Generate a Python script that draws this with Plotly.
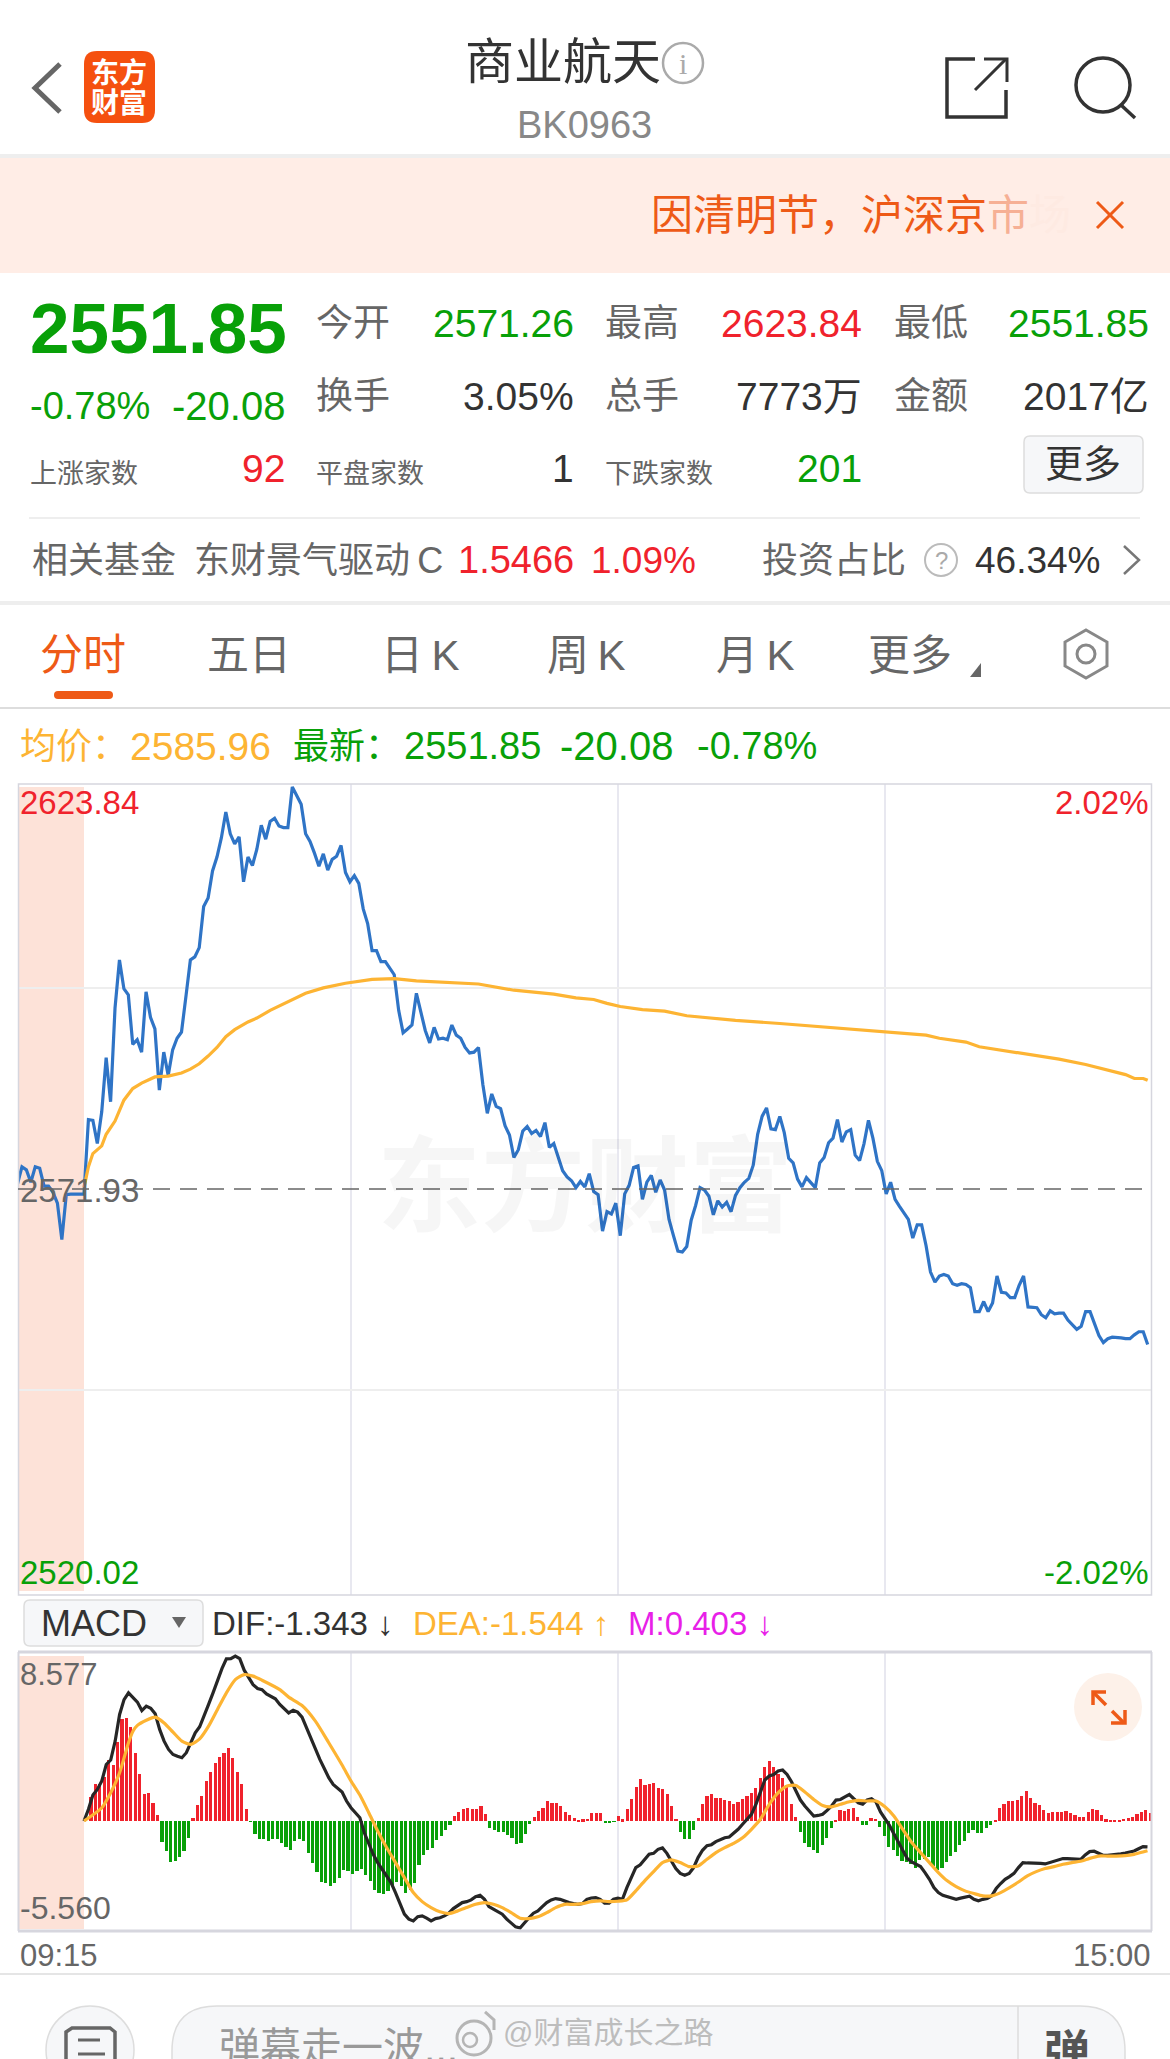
import numpy as np
import plotly.graph_objects as go

W, H = 1170, 2059

# ---------- data ----------
first_price_minute = -15
price = [
 2572.6,2574.8,2574.4,2572.8,2574.8,2574.6,2572.3,2572.3,2571.5,2570.1,2565.4,2571.2,2571.26,2571.26,2571.26,2571.26,
 2580.9,2580.8,2577.8,2581.9,2588.9,2583.2,2595.3,2601.5,2597.8,2597.0,
 2590.6,2591.2,2589.6,2597.4,2594.1,2592.6,2584.7,2589.6,2586.6,2589.9,
 2591.4,2592.2,2596.8,2601.5,2601.9,2603.1,2608.4,2609.5,2613.0,2614.8,
 2617.3,2620.6,2617.8,2616.5,2617.4,2611.6,2614.8,2613.7,2615.8,2618.9,
 2617.1,2619.4,2619.8,2618.8,2618.6,2618.6,2623.84,2622.6,2621.6,2617.8,
 2616.8,2615.3,2613.6,2615.2,2613.1,2614.5,2614.9,2616.3,2612.8,2611.6,
 2612.4,2611.4,2608.1,2606.2,2602.7,2602.7,2601.3,2601.3,2600.5,2599.6,
 2595.0,2592.1,2592.6,2593.1,2597.2,2594.6,2592.4,2590.8,2592.8,2591.3,
 2591.4,2591.2,2593.1,2591.8,2591.4,2590.2,2589.5,2589.6,2590.2,2585.4,
 2581.7,2584.2,2582.6,2582.3,2580.1,2578.9,2576.0,2577.0,2579.4,2580.0,
 2579.1,2579.5,2578.7,2580.5,2577.3,2577.8,2575.9,2574.3,2573.5,2573.0,
 2572.1,2572.9,2572.2,2573.9,2571.6,2571.2,2566.5,2569.0,2568.7,2570.1,
 2565.9,2571.3,2572.4,2574.7,2574.9,2570.6,2572.8,2573.7,2571.5,2573.1,
 2571.8,2568.0,2565.9,2563.9,2563.8,2564.5,2567.9,2569.8,2572.1,2571.8,
 2571.0,2568.6,2570.4,2569.6,2570.2,2569.0,2571.1,2572.1,2572.8,2573.3,
 2575.0,2579.0,2581.3,2582.4,2579.7,2579.6,2581.3,2579.2,2575.9,2575.3,
 2573.2,2572.2,2573.4,2572.7,2572.1,2575.3,2576.0,2577.9,2578.5,2580.9,
 2578.0,2579.3,2579.6,2576.3,2575.6,2577.8,2580.8,2578.5,2575.5,2574.3,
 2571.3,2572.8,2570.6,2569.7,2568.9,2568.0,2565.6,2567.3,2567.3,2564.6,
 2561.2,2559.9,2560.7,2560.9,2560.7,2559.7,2559.5,2559.7,2559.6,2559.2,
 2556.1,2556.1,2557.4,2556.1,2557.2,2560.7,2558.6,2558.5,2557.9,2557.9,
 2559.5,2560.7,2556.7,2556.6,2556.6,2555.7,2555.3,2556.2,2555.8,2555.9,
 2555.9,2555.0,2554.4,2553.8,2554.2,2556.1,2556.1,2554.5,2553.0,2552.1,
 2552.6,2552.8,2552.8,2552.7,2552.6,2552.6,2553.1,2553.5,2553.5,2551.85]

avg_minutes = [0,1,2,4,5,7,9,11,13,16,19,22,24,26,28,30,32,34,37,39,42,46,50,54,59,65,70,75,82,89,97,
               106,111,115,118,121,126,131,136,147,157,170,183,190,193,199,202,212,220,226,231,235,237,239,240]
avg_price = [2572.1,2574.8,2576.5,2577.5,2579.0,2580.7,2583.4,2584.9,2585.6,2586.4,2586.5,2586.9,2587.4,2588.1,
             2589.1,2590.2,2591.6,2592.5,2593.5,2594.0,2595.0,2596.1,2597.2,2597.9,2598.5,2599.0,2599.1,2598.8,
             2598.6,2598.4,2597.6,2597.1,2596.6,2596.4,2595.9,2595.5,2595.1,2594.9,2594.3,2593.7,2593.3,2592.7,
             2592.2,2591.8,2591.4,2590.9,2590.3,2589.4,2588.7,2588.0,2587.3,2586.7,2586.2,2586.2,2585.96]

macd_bars = [
 1.25,1.95,1.95,2.30,3.15,2.91,4.10,5.31,5.33,4.91,3.53,2.46,1.40,1.44,0.95,0.31,
 -1.09,-1.56,-2.13,-2.09,-1.85,-1.57,-0.90,0.17,0.83,1.28,2.08,2.54,3.04,3.32,
 3.51,3.77,3.30,2.56,1.90,0.62,-0.03,-0.69,-0.95,-0.92,-1.02,-0.95,-0.95,-1.12,
 -1.33,-1.51,-1.04,-0.95,-1.04,-1.66,-2.18,-2.66,-3.15,-3.20,-3.37,-3.24,-2.98,
 -2.54,-2.60,-2.75,-2.60,-2.51,-2.82,-3.10,-3.58,-3.72,-3.81,-3.62,-3.34,-3.17,
 -3.37,-3.72,-3.58,-3.20,-2.28,-1.76,-1.51,-1.42,-1.00,-0.78,-0.48,-0.22,0.26,
 0.48,0.64,0.66,0.61,0.64,0.78,0.35,-0.35,-0.45,-0.57,-0.57,-0.74,-0.88,-1.21,
 -1.14,-0.66,-0.14,0.19,0.50,0.69,1.04,0.93,0.95,0.78,0.48,0.29,0.14,0.02,0.09,
 0.12,0.43,0.40,0.40,-0.10,-0.09,-0.05,0.26,0.09,0.61,1.16,1.78,2.18,1.89,1.90,
 1.99,1.70,1.68,1.42,0.78,0.12,-0.55,-0.92,-0.95,-0.48,0.14,0.87,1.28,1.42,1.18,
 1.21,1.07,1.06,0.87,0.97,1.16,1.31,1.44,1.70,2.25,2.79,3.11,2.82,2.44,2.25,1.85,
 0.87,0.19,-0.57,-1.14,-1.33,-1.51,-1.64,-1.25,-0.88,-0.36,0.03,0.57,0.54,0.62,
 0.66,0.21,-0.21,-0.21,0.17,0.12,-0.33,-0.78,-1.37,-1.52,-1.83,-2.06,-2.11,-2.25,
 -2.44,-2.01,-1.99,-1.87,-2.34,-2.54,-2.44,-2.13,-1.83,-1.59,-1.25,-1.02,-0.64,
 -0.45,-0.62,-0.62,-0.36,-0.22,0.03,0.67,0.88,1.04,1.06,1.07,1.28,1.56,1.18,0.95,
 0.81,0.59,0.43,0.45,0.45,0.47,0.50,0.40,0.29,0.21,0.21,0.48,0.64,0.55,0.31,0.09,
 0.03,0.02,0.07,0.12,0.17,0.22,0.35,0.48,0.55,0.40]

dif = [
 0,0.61,1.35,1.64,2.08,2.94,3.17,4.15,5.54,6.31,6.66,6.40,6.18,5.74,5.97,5.86,5.57,4.76,4.15,3.72,
 3.46,3.37,3.29,3.55,4.12,4.58,4.90,5.54,6.06,6.66,7.32,7.92,8.43,8.44,8.577,8.44,7.84,7.44,7.09,6.89,
 6.83,6.61,6.49,6.35,6.06,5.83,5.62,5.76,5.66,5.40,4.84,4.33,3.77,3.20,2.73,2.25,1.90,1.68,1.51,1.04,
 0.69,0.43,0.17,-0.61,-1.21,-1.73,-2.16,-2.51,-2.85,-3.20,-3.72,-4.33,-4.84,-5.10,-5.19,-4.97,-4.93,-5.05,-5.19,-5.07,
 -5.03,-4.93,-4.79,-4.55,-4.38,-4.24,-4.19,-4.10,-3.93,-3.86,-4.07,-4.45,-4.58,-4.71,-4.84,-5.10,-5.31,-5.50,-5.56,-5.28,
 -5.03,-4.79,-4.67,-4.45,-4.24,-4.10,-4.03,-4.07,-4.17,-4.24,-4.29,-4.33,-4.29,-4.07,-4.00,-3.98,-4.07,-4.27,-4.27,-4.07,
 -4.01,-4.07,-3.46,-2.94,-2.42,-2.28,-2.02,-1.73,-1.68,-1.47,-1.40,-1.68,-2.08,-2.47,-2.72,-2.82,-2.72,-2.42,-1.90,-1.52,
 -1.28,-1.23,-1.07,-0.97,-0.87,-0.83,-0.64,-0.43,-0.17,0.07,0.35,0.87,1.56,2.13,2.34,2.42,2.60,2.65,2.42,2.04,
 1.56,1.09,0.78,0.52,0.26,0.29,0.35,0.55,0.78,1.09,1.12,1.26,1.38,1.16,0.95,0.88,1.09,1.16,0.99,0.47,
 0.12,-0.22,-0.66,-1.09,-1.51,-1.95,-2.13,-2.25,-2.37,-2.68,-3.03,-3.46,-3.72,-3.86,-3.94,-4.03,-4.07,-4.01,-3.98,-3.91,
 -4.07,-4.15,-4.07,-4.03,-3.89,-3.51,-3.25,-3.03,-2.89,-2.72,-2.42,-2.16,-2.18,-2.18,-2.16,-2.20,-2.23,-2.16,-2.09,-2.01,
 -1.95,-1.95,-1.97,-1.99,-1.99,-1.76,-1.59,-1.57,-1.68,-1.78,-1.78,-1.76,-1.75,-1.70,-1.66,-1.63,-1.56,-1.44,-1.33,-1.343]

dea_minutes = [0,4,6,8,10,11,12,14,16,18,20,22,24,26,28,30,32,34,36,38,40,44,46,49,52,55,58,60,62,64,66,68,70,72,74,76,78,80,82,84,86,88,90,92,94,96,98,100,102,104,106,108,110,112,114,116,118,120,122,124,126,128,130,132,134,136,138,140,142,144,146,148,150,152,154,156,158,160,162,164,166,168,170,172,174,176,178,180,182,184,186,188,190,192,194,196,198,200,202,204,206,208,210,212,214,216,218,220,222,224,226,228,230,232,234,236,238,239]
dea = [0,0.69,1.47,2.51,4.07,4.67,4.97,5.24,5.40,5.10,4.62,4.15,3.98,4.27,4.93,5.80,6.66,7.35,7.61,7.53,7.32,6.83,6.44,6.00,5.19,4.07,2.91,2.08,1.35,0.43,-0.52,-1.38,-2.16,-2.94,-3.72,-4.19,-4.50,-4.72,-4.81,-4.67,-4.50,-4.33,-4.24,-4.33,-4.50,-4.76,-5.05,-5.07,-4.98,-4.76,-4.50,-4.33,-4.33,-4.29,-4.19,-4.15,-4.19,-4.17,-4.10,-3.63,-3.11,-2.63,-2.16,-2.02,-2.16,-2.37,-2.34,-1.99,-1.64,-1.38,-1.16,-0.87,-0.43,0.09,0.87,1.47,1.82,1.85,1.51,1.12,0.81,0.74,0.87,1.00,1.07,1.04,1.04,0.74,0.26,-0.43,-1.12,-1.64,-2.16,-2.68,-3.11,-3.41,-3.63,-3.77,-3.89,-3.89,-3.72,-3.46,-3.17,-2.85,-2.63,-2.47,-2.37,-2.25,-2.16,-2.09,-1.94,-1.82,-1.82,-1.82,-1.80,-1.73,-1.61,-1.544]

prev_close = 2571.93
grid_minutes = [60.24, 120.5, 180.7]
price_grid = [2597.9, 2545.97]

# ---------- colours / geometry ----------
RED, GREEN, GRAY = "#f0222c", "#08a008", "#666666"
ORANGE, AMBER, BLUE = "#ee5a17", "#fdb433", "#2f74c6"
FONT = "Liberation Sans, Noto Sans CJK SC, sans-serif"
PX_MIN = 4.432
x_range = [(18 - 84) / PX_MIN, (1152 - 84) / PX_MIN]
line_scale = 1.004   # MACD curves were read on a slightly different minute pitch

def px(x): return x / W
def py(y): return 1 - y / H

shapes, notes = [], []

def rect(x0, y0, x1, y1, fill=None, line=None, lw=1, layer="below"):
    shapes.append(dict(type="rect", xref="paper", yref="paper", x0=px(x0), x1=px(x1), y0=py(y1), y1=py(y0),
                       fillcolor=fill or "rgba(0,0,0,0)", line=dict(color=line or "rgba(0,0,0,0)", width=lw), layer=layer))

def hline(x0, x1, y, color, lw=1, dash=None, layer="below"):
    shapes.append(dict(type="line", xref="paper", yref="paper", x0=px(x0), x1=px(x1), y0=py(y), y1=py(y),
                       line=dict(color=color, width=lw, dash=dash or "solid"), layer=layer))

def path(points, color=None, lw=2, fill=None, close=False, layer="above"):
    s = "M" + " L".join(f"{px(a):.5f},{py(b):.5f}" for a, b in points) + (" Z" if close else "")
    shapes.append(dict(type="path", xref="paper", yref="paper", path=s, fillcolor=fill or "rgba(0,0,0,0)",
                       line=dict(color=color or "rgba(0,0,0,0)", width=lw), layer=layer))

def circle(cx, cy, r, fill=None, line=None, lw=2, layer="above"):
    shapes.append(dict(type="circle", xref="paper", yref="paper", x0=px(cx - r), x1=px(cx + r), y0=py(cy + r), y1=py(cy - r),
                       fillcolor=fill or "rgba(0,0,0,0)", line=dict(color=line or "rgba(0,0,0,0)", width=lw), layer=layer))

def rrect(x0, y0, x1, y1, r, fill=None, line=None, lw=1, layer="below"):
    s = (f"M{px(x0 + r)},{py(y0)} L{px(x1 - r)},{py(y0)} Q{px(x1)},{py(y0)} {px(x1)},{py(y0 + r)} "
         f"L{px(x1)},{py(y1 - r)} Q{px(x1)},{py(y1)} {px(x1 - r)},{py(y1)} L{px(x0 + r)},{py(y1)} "
         f"Q{px(x0)},{py(y1)} {px(x0)},{py(y1 - r)} L{px(x0)},{py(y0 + r)} Q{px(x0)},{py(y0)} {px(x0 + r)},{py(y0)} Z")
    shapes.append(dict(type="path", xref="paper", yref="paper", path=s, fillcolor=fill or "rgba(0,0,0,0)",
                       line=dict(color=line or "rgba(0,0,0,0)", width=lw), layer=layer))

def txt(x, y, s, size, color="#333333", anchor="left", bold=False, family=FONT):
    notes.append(dict(x=px(x), y=py(y), xref="paper", yref="paper", showarrow=False, xanchor=anchor, yanchor="middle",
                      text=f"<b>{s}</b>" if bold else s, font=dict(size=size, color=color, family=family), borderpad=0))

# ---------- app chrome ----------
path([(60, 64), (35, 88), (60, 112)], "#666666", 5)
rrect(84, 51, 155, 123, 13, fill="#f5500f", layer="above")
txt(119, 73, "东方", 28, "#ffffff", "center", True)
txt(119, 103, "财富", 28, "#ffffff", "center", True)
txt(563, 62, "商业航天", 49, "#333333", "center")
circle(683, 63, 20, line="#aaaaaa", lw=2.5)
txt(683, 63, "i", 30, "#aaaaaa", "center", family="Liberation Serif")
txt(584, 125, "BK0963", 38, "#888888", "center")
path([(975, 59), (947, 59), (947, 117), (1006, 117), (1006, 90)], "#333333", 3.5)
path([(975, 90), (1006, 59)], "#333333", 3)
path([(984, 59), (1007, 59), (1007, 82)], "#333333", 3)
circle(1103, 85, 27, line="#333333", lw=3.5)
path([(1121, 105), (1135, 118)], "#333333", 3.5)

hline(0, W, 156, "#eeeeee", 4)
rect(0, 158, W, 273, fill="#ffede6")
txt(650, 216, "因清明节，沪深京", 42, ORANGE)
txt(986, 216, "市", 42, "#f6b095")
txt(1028, 216, "场", 42, "#feeae2")
path([(1097, 202), (1123, 228)], ORANGE, 3)
path([(1123, 202), (1097, 228)], ORANGE, 3)

txt(29, 328, "2551.85", 71, GREEN, bold=True)
txt(29, 406, "-0.78%", 38, GREEN)
txt(286, 406, "-20.08", 40, GREEN, "right")
for lx, rx, lab, val, col in [(315, 575, "今开", "2571.26", GREEN), (604, 863, "最高", "2623.84", RED), (893, 1150, "最低", "2551.85", GREEN)]:
    txt(lx, 324, lab, 37, GRAY); txt(rx, 324, val, 39, col, "right")
for lx, rx, lab, val in [(315, 575, "换手", "3.05%"), (604, 863, "总手", "7773万"), (893, 1150, "金额", "2017亿")]:
    txt(lx, 396, lab, 37, GRAY); txt(rx, 396, val, 39, "#333333", "right")
for lx, rx, lab, val, col in [(29, 286, "上涨家数", "92", RED), (315, 575, "平盘家数", "1", "#333333"), (604, 863, "下跌家数", "201", GREEN)]:
    txt(lx, 474, lab, 27, GRAY); txt(rx, 468, val, 39, col, "right")
rrect(1024, 436, 1143, 493, 6, fill="#f6f7f9", line="#dddddd", lw=1.5)
txt(1083, 464, "更多", 38, "#333333", "center")
hline(29, 1140, 518, "#eeeeee", 2)

txt(31, 560, "相关基金", 36, GRAY)
txt(193, 560, "东财景气驱动\u2009C", 36, GRAY)
txt(457, 560, "1.5466", 38, RED)
txt(590, 560, "1.09%", 37, RED)
txt(761, 560, "投资占比", 36, GRAY)
circle(941, 560, 16, line="#bbbbbb", lw=2)
txt(941, 560, "?", 24, "#aaaaaa", "center")
txt(974, 560, "46.34%", 37, "#333333")
path([(1124, 546), (1139, 560), (1124, 574)], "#777777", 2.5)
hline(0, W, 603, "#eeeeee", 4)

txt(83, 655, "分时", 43, ORANGE, "center")
rrect(54, 691, 113, 699, 4, fill=ORANGE)
for cx, lab in [(249, "五日"), (420, "日\u2009K"), (586, "周\u2009K"), (755, "月\u2009K"), (910, "更多")]:
    txt(cx, 655, lab, 42, GRAY, "center")
path([(981, 663), (981, 677), (970, 677)], None, 1, fill="#666666", close=True)
path([(1086, 630), (1107, 642), (1107, 666), (1086, 678), (1065, 666), (1065, 642)], "#888888", 3, close=True)
circle(1086, 654, 9, line="#888888", lw=3)
hline(0, W, 708, "#dddddd", 2)

txt(19, 746, "均价：", 36, AMBER)
txt(129, 746, "2585.96", 39, AMBER)
txt(292, 746, "最新：", 36, GREEN)
txt(403, 746, "2551.85", 38, GREEN)
txt(559, 746, "-20.08", 40, GREEN)
txt(696, 746, "-0.78%", 38, GREEN)

# ---------- chart furniture ----------
rect(19, 787, 84, 1591, fill="#fde2d8")
rect(19, 1656, 84, 1929, fill="#fde2d8")
rect(18.5, 784, 1151.5, 1595, line="#d6d6de", lw=1.5, layer="above")
hline(18, 1152, 1652, "#d6d6de", 3, layer="above")
hline(18, 1152, 1931, "#d6d6de", 3, layer="above")
shapes.append(dict(type="line", xref="paper", yref="paper", x0=px(18.5), x1=px(18.5), y0=py(1931), y1=py(1652), line=dict(color="#d6d6de", width=2)))
shapes.append(dict(type="line", xref="paper", yref="paper", x0=px(1151.5), x1=px(1151.5), y0=py(1931), y1=py(1652), line=dict(color="#d6d6de", width=2)))
shapes.append(dict(type="line", xref="x", yref="y", x0=x_range[0], x1=(1145 - 84) / PX_MIN, y0=prev_close, y1=prev_close,
                   line=dict(color="#666666", width=1.5, dash="17px,10px"), layer="above"))

txt(585, 1188, "东方财富", 104, "rgba(0,0,0,0.035)", "center", True)
txt(19, 802, "2623.84", 33, RED)
txt(1150, 802, "2.02%", 33, RED, "right")
txt(19, 1190, "2571.93", 33, GRAY)
txt(19, 1572, "2520.02", 33, GREEN)
txt(1150, 1572, "-2.02%", 33, GREEN, "right")

rrect(24, 1600, 203, 1646, 6, fill="#f6f7f9", line="#dddddd", lw=1.5)
txt(40, 1623, "MACD", 36, "#333333")
path([(172, 1617), (186, 1617), (179, 1628)], None, 1, fill="#666666", close=True)
txt(211, 1623, "DIF:-1.343 ↓", 33, "#333333")
txt(412, 1623, "DEA:-1.544 ↑", 33, AMBER)
txt(627, 1623, "M:0.403 ↓", 33, "#e81fe8")
txt(19, 1674, "8.577", 31, GRAY)
txt(19, 1908, "-5.560", 32, GRAY)
txt(19, 1955, "09:15", 31, GRAY)
txt(1152, 1955, "15:00", 31, GRAY, "right")
circle(1108, 1707, 34, fill="#fdf1e9")
for pts in ([(1094, 1693), (1106, 1705)], [(1093, 1705), (1093, 1692), (1106, 1692)],
            [(1112, 1711), (1124, 1723)], [(1125, 1710), (1125, 1723), (1111, 1723)]):
    path(pts, ORANGE, 3.5)
hline(0, W, 1974, "#dddddd", 1.5)

# ---------- bottom bar ----------
circle(90, 2050, 44, fill="#f6f7f9", line="#dddddd", lw=1.5)
path([(66, 2059), (66, 2032), (72, 2028), (110, 2028), (115, 2032), (115, 2059)], "#666666", 3.5)
path([(78, 2040), (100, 2040)], "#666666", 3)
path([(78, 2054), (105, 2054)], "#666666", 3)
rrect(172, 2006, 1125, 2120, 45, fill="#f6f7f9", line="#dddddd", lw=1.5)
shapes.append(dict(type="line", xref="paper", yref="paper", x0=px(1018), x1=px(1018), y0=py(2059), y1=py(2006), line=dict(color="#dddddd", width=1.5)))
txt(218, 2048, "弹幕走一波...", 41, "#999999")
txt(1067, 2052, "弹", 46, "#555555", "center", True)
circle(474, 2038, 17, line="#b5b5b5", lw=3)
circle(470, 2040, 7, line="#b5b5b5", lw=2.5)
path([(485, 2012), (494, 2020), (494, 2030)], "#b5b5b5", 3)
txt(502, 2032, "@财富成长之路", 30, "#bdbdbd")

# ---------- traces ----------
price_x = [first_price_minute + i for i in range(len(price))]
bar_x = [i + 1.58 for i in range(len(macd_bars))]
dif_x = [i * line_scale for i in range(len(dif))]
dea_x = [m * line_scale for m in dea_minutes]

fig = go.Figure()
fig.add_trace(go.Scatter(x=price_x, y=price, mode="lines", line=dict(color=BLUE, width=3.2), xaxis="x", yaxis="y", name="最新"))
fig.add_trace(go.Scatter(x=avg_minutes, y=avg_price, mode="lines", line=dict(color=AMBER, width=3.2), xaxis="x", yaxis="y", name="均价"))
fig.add_trace(go.Bar(x=bar_x, y=macd_bars, width=0.72, marker=dict(color=[RED if v >= 0 else GREEN for v in macd_bars], line_width=0),
                     xaxis="x2", yaxis="y2", name="M"))
fig.add_trace(go.Scatter(x=dif_x, y=dif, mode="lines", line=dict(color="#262626", width=3.2), xaxis="x2", yaxis="y2", name="DIF"))
fig.add_trace(go.Scatter(x=dea_x, y=dea, mode="lines", line=dict(color=AMBER, width=3.2, shape="spline", smoothing=0.6), xaxis="x2", yaxis="y2", name="DEA"))

unit = 804 / (2623.84 - 2520.02)
y_top = 2623.84 + (787 - 784) / unit
y_bot = 2520.02 - (1595 - 1591) / unit
m_unit = 272 / (8.577 + 5.56)
m_top = 8.577 + (1656 - 1652) / m_unit
m_bot = -5.56 - (1931 - 1928) / m_unit

fig.update_layout(
    width=W, height=H, margin=dict(l=0, r=0, t=0, b=0), paper_bgcolor="#ffffff", plot_bgcolor="rgba(0,0,0,0)",
    showlegend=False, bargap=0, font=dict(family=FONT), shapes=shapes, annotations=notes,
    xaxis=dict(domain=[px(18), px(1152)], range=x_range, showline=False, zeroline=False, showgrid=True, gridcolor="#e8e8f0", gridwidth=1.5,
               tickmode="array", tickvals=grid_minutes, showticklabels=False, ticks="", anchor="y"),
    yaxis=dict(domain=[py(1595), py(784)], range=[y_bot, y_top], showline=False, zeroline=False, showgrid=True, gridcolor="#eeeeee", gridwidth=1.5,
               tickmode="array", tickvals=price_grid, showticklabels=False, ticks="", anchor="x"),
    xaxis2=dict(domain=[px(18), px(1152)], range=x_range, showline=False, zeroline=False, showgrid=True, gridcolor="#e8e8f0", gridwidth=1.5,
                tickmode="array", tickvals=grid_minutes, showticklabels=False, ticks="", anchor="y2"),
    yaxis2=dict(domain=[py(1931), py(1652)], range=[m_bot, m_top], showline=False, zeroline=False, showgrid=False,
                showticklabels=False, ticks="", anchor="x2"),
)
fig.write_html("out.html", config=dict(displayModeBar=False),
               post_script="document.body.style.margin='0';document.documentElement.style.overflow='hidden';")
